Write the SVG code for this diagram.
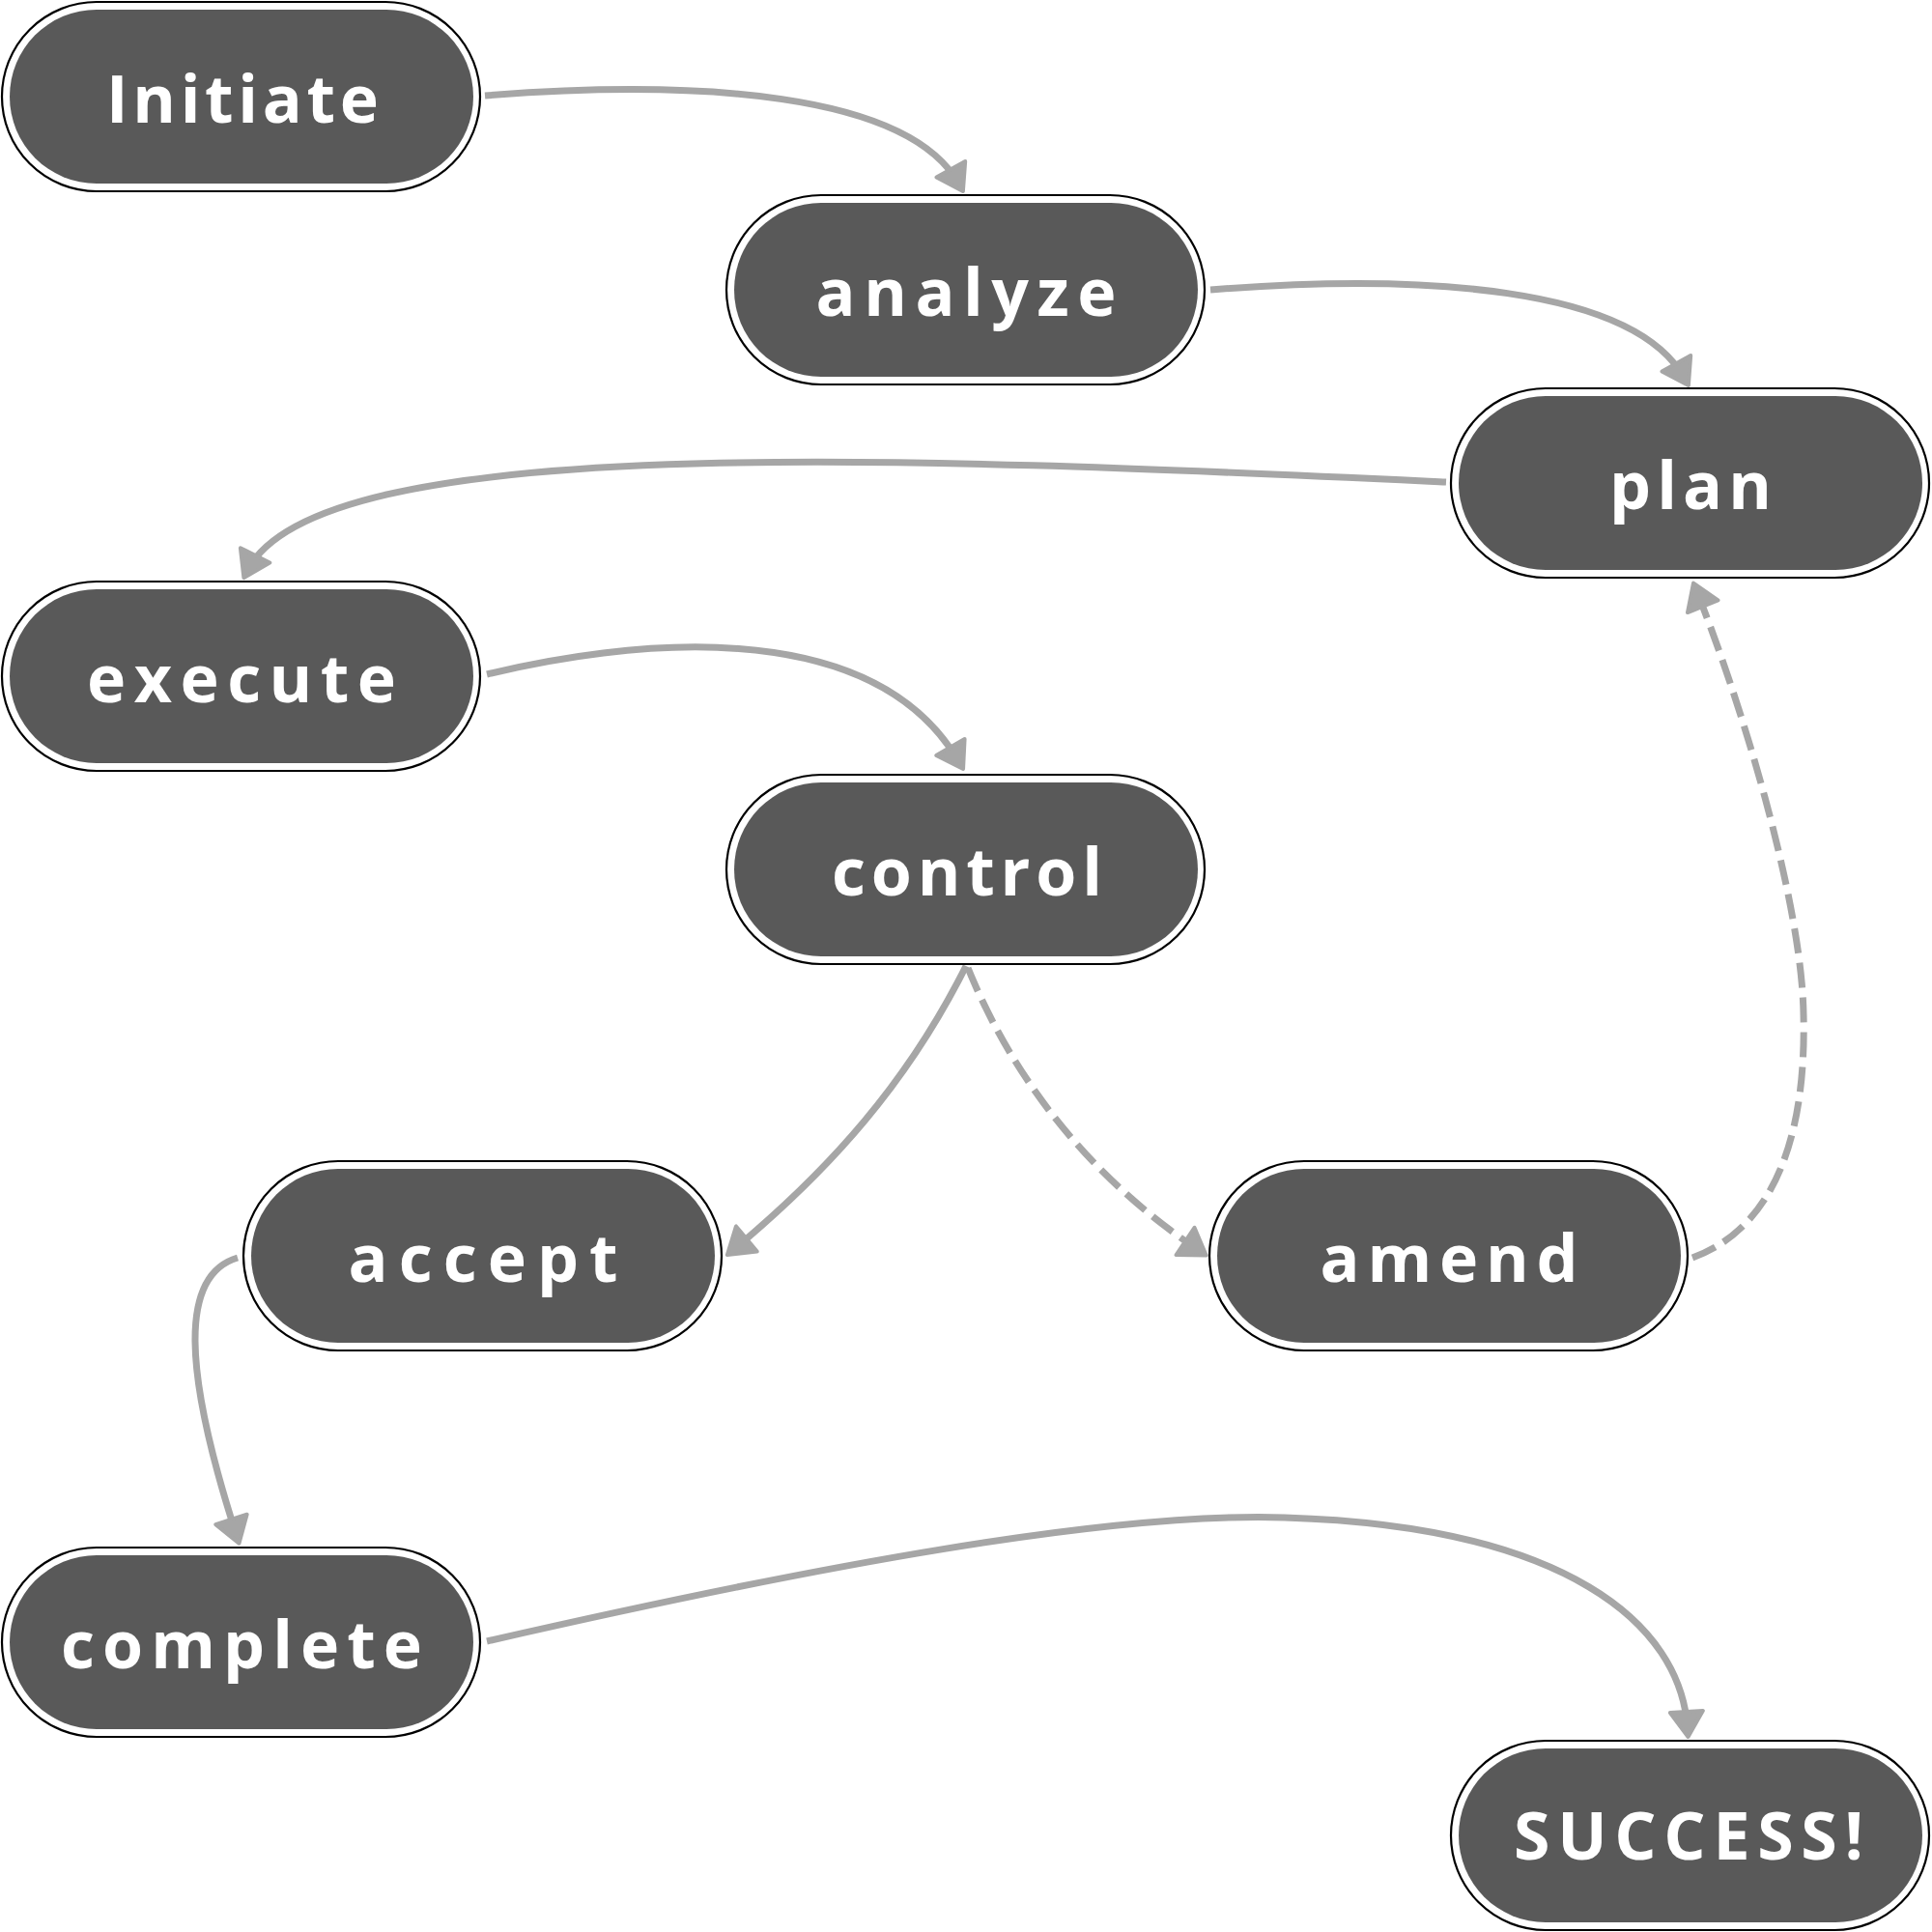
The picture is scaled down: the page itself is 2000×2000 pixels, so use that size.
<svg xmlns="http://www.w3.org/2000/svg" width="2000" height="2000" viewBox="0 0 2000 2000">
<style>
  .outer { fill: #ffffff; stroke: #000000; stroke-width: 2.2; }
  .inner { fill: #595959; }
  .lbl { fill: #ffffff; font-family: "Open Sans", "DejaVu Sans", sans-serif; font-weight: 700; font-size: 68px; text-anchor: middle; }
  .con { fill: none; stroke: #a6a6a6; stroke-width: 7; marker-end: url(#arr); }
  .dash { stroke-dasharray: 26 10; }
</style>
<defs>
  <marker id="arr" markerUnits="userSpaceOnUse" viewBox="-40 -24 46 48" markerWidth="46" markerHeight="48" refX="-10" refY="0" orient="auto">
    <path d="M-2,0 L-28,-17 L-28,17 Z" fill="#a6a6a6" stroke="#a6a6a6" stroke-width="4" stroke-linejoin="round"/>
  </marker>
</defs>
<rect width="2000" height="2000" fill="#ffffff"/>

<g id="connectors">
  <path class="con" d="M502,99 C 720,82 940,95 993,191"/>
  <path class="con" d="M1253,300 C 1471,283 1691,296 1744,392"/>
  <path class="con" d="M1497,499 C 950,474 330,444 256,591"/>
  <path class="con" d="M504,698 C 640,665 900,630 993,789"/>
  <path class="con" d="M1000,1000 C 940,1120 860,1210 759,1294"/>
  <path class="con dash" d="M1002,1002 C 1050,1120 1130,1220 1242,1295"/>
  <path class="con dash" d="M1752,1302 C 1840,1270 1870,1170 1867,1050 C 1865,930 1800,720 1756,611"/>
  <path class="con" d="M246,1302 C 185,1320 190,1420 245,1590"/>
  <path class="con" d="M504,1699 C 850,1620 1150,1565 1330,1571 C 1620,1580 1740,1680 1747,1790"/>
</g>

<g id="node-initiate">
  <rect class="outer" x="2" y="2" width="495" height="196" rx="98"/>
  <rect class="inner" x="10" y="10" width="480" height="180" rx="90"/>
  <text class="lbl" x="251" y="127" textLength="282" lengthAdjust="spacing">Initiate</text>
</g>
<g id="node-analyze">
  <rect class="outer" x="752" y="202" width="495" height="196" rx="98"/>
  <rect class="inner" x="760" y="210" width="480" height="180" rx="90"/>
  <text class="lbl" x="1000" y="327" textLength="311" lengthAdjust="spacing">analyze</text>
</g>
<g id="node-plan">
  <rect class="outer" x="1502" y="402" width="495" height="196" rx="98"/>
  <rect class="inner" x="1510" y="410" width="480" height="180" rx="90"/>
  <text class="lbl" x="1750" y="527" textLength="168" lengthAdjust="spacing">plan</text>
</g>
<g id="node-execute">
  <rect class="outer" x="2" y="602" width="495" height="196" rx="98"/>
  <rect class="inner" x="10" y="610" width="480" height="180" rx="90"/>
  <text class="lbl" x="250" y="727" textLength="320" lengthAdjust="spacing">execute</text>
</g>
<g id="node-control">
  <rect class="outer" x="752" y="802" width="495" height="196" rx="98"/>
  <rect class="inner" x="760" y="810" width="480" height="180" rx="90"/>
  <text class="lbl" x="1001" y="927" textLength="280" lengthAdjust="spacing">control</text>
</g>
<g id="node-accept">
  <rect class="outer" x="252" y="1202" width="495" height="196" rx="98"/>
  <rect class="inner" x="260" y="1210" width="480" height="180" rx="90"/>
  <text class="lbl" x="500" y="1327" textLength="279" lengthAdjust="spacing">accept</text>
</g>
<g id="node-amend">
  <rect class="outer" x="1252" y="1202" width="495" height="196" rx="98"/>
  <rect class="inner" x="1260" y="1210" width="480" height="180" rx="90"/>
  <text class="lbl" x="1500" y="1327" textLength="267" lengthAdjust="spacing">amend</text>
</g>
<g id="node-complete">
  <rect class="outer" x="2" y="1602" width="495" height="196" rx="98"/>
  <rect class="inner" x="10" y="1610" width="480" height="180" rx="90"/>
  <text class="lbl" x="250" y="1727" textLength="374" lengthAdjust="spacing">complete</text>
</g>
<g id="node-success">
  <rect class="outer" x="1502" y="1802" width="495" height="196" rx="98"/>
  <rect class="inner" x="1510" y="1810" width="480" height="180" rx="90"/>
  <text class="lbl" x="1748" y="1925" textLength="362" lengthAdjust="spacing">SUCCESS!</text>
</g>
</svg>
